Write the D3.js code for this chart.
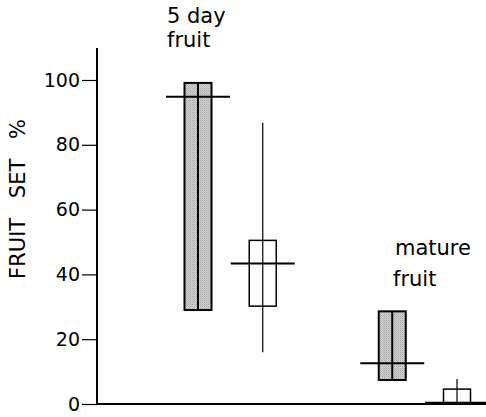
<!DOCTYPE html>
<html>
<head>
<meta charset="utf-8">
<title>fruit set</title>
<style>
  body { margin: 0; background: #fff; }
  text { font-family: "DejaVu Sans", sans-serif; fill: #000; }
</style>
</head>
<body>
<div class="wrapper"></div>
<script src="https://d3js.org/d3.v7.min.js"></script>
<script>
// slot position along the x axis (gap between the two groups)
var slots = [0, 1, 3, 4];
var shaded = [true, false, true, false];
var boxLow = [29, 30.2, 7.4, 0];
var boxHigh = [99.1, 50.5, 28.6, 4.6];
var means = [94.8, 43.4, 12.6, 0.4];
var rangeLow = [29, 16, 7.4, 0];
var rangeHigh = [99.1, 86.8, 28.6, 7.7];
var yTicks = [0, 20, 40, 60, 80, 100];
var groupLabels = [["5 day", "fruit"], ["mature", "fruit"]];

var w = 486, h = 417;
var svg = d3.select(".wrapper").append("svg")
    .attr("width", w)
    .attr("height", h);

var x = d3.scaleLinear().domain([0, 4]).range([198, 457]);
var y = d3.scaleLinear().domain([0, 100]).range([404, 80]);

var boxW = 27, meanHalf = 32;

// fine stipple for the shaded boxes
var pat = svg.append("defs").append("pattern")
    .attr("id", "stip")
    .attr("width", 2).attr("height", 2)
    .attr("patternUnits", "userSpaceOnUse");
pat.append("rect").attr("width", 2).attr("height", 2).attr("fill", "#d4d4d4");
pat.append("rect").attr("x", 0).attr("y", 0).attr("width", 1).attr("height", 1).attr("fill", "#a6a6a6");
pat.append("rect").attr("x", 1).attr("y", 1).attr("width", 1).attr("height", 1).attr("fill", "#bcbcbc");

// y axis
var yAxis = d3.axisLeft(y).tickValues(yTicks).tickSize(15).tickPadding(2);
var ga = svg.append("g").attr("transform", "translate(97,0)").call(yAxis);
ga.select(".domain").remove();
ga.selectAll(".tick line").attr("stroke", "#000").attr("stroke-width", 1.2);
ga.selectAll(".tick text")
    .style("font-family", "DejaVu Sans, sans-serif")
    .style("font-size", "19px")
    .attr("fill", "#000");

svg.append("line")
    .attr("x1", 97).attr("x2", 97)
    .attr("y1", 48).attr("y2", y(0))
    .attr("stroke", "#000").attr("stroke-width", 2);
svg.append("line")
    .attr("x1", 96).attr("x2", w)
    .attr("y1", y(0)).attr("y2", y(0))
    .attr("stroke", "#000").attr("stroke-width", 2);

svg.append("text")
    .attr("transform", "translate(25,199) rotate(-90)")
    .attr("text-anchor", "middle")
    .style("font-size", "21px")
    .style("word-spacing", "13px")
    .text("FRUIT SET %");

// boxes
var idx = d3.range(slots.length);
svg.selectAll("rect.box")
    .data(idx)
    .enter()
    .append("rect")
    .attr("class", "box")
    .attr("x", function(i){ return x(slots[i]) - boxW/2; })
    .attr("width", boxW)
    .attr("y", function(i){ return y(boxHigh[i]); })
    .attr("height", function(i){ return y(boxLow[i]) - y(boxHigh[i]); })
    .attr("fill", function(i){ return shaded[i] ? "url(#stip)" : "#fff"; })
    .attr("stroke", "#000")
    .attr("stroke-width", function(i){ return shaded[i] ? 2 : 1.5; });

// range lines
svg.selectAll("line.range")
    .data(idx)
    .enter()
    .append("line")
    .attr("class", "range")
    .attr("x1", function(i){ return x(slots[i]); })
    .attr("x2", function(i){ return x(slots[i]); })
    .attr("y1", function(i){ return y(rangeLow[i]); })
    .attr("y2", function(i){ return y(rangeHigh[i]); })
    .attr("stroke", "#000")
    .attr("stroke-width", function(i){ return shaded[i] ? 2 : 1.2; });

// means
svg.selectAll("line.mean")
    .data(idx)
    .enter()
    .append("line")
    .attr("class", "mean")
    .attr("x1", function(i){ return x(slots[i]) - meanHalf; })
    .attr("x2", function(i){ return x(slots[i]) + meanHalf; })
    .attr("y1", function(i){ return y(means[i]); })
    .attr("y2", function(i){ return y(means[i]); })
    .attr("stroke", "#000")
    .attr("stroke-width", 2);

// group labels
var labelPos = [[167, 23, 24], [395, 255, 31]];
groupLabels.forEach(function(lines, g){
    lines.forEach(function(t, k){
        svg.append("text")
            .attr("x", labelPos[g][0] - (k === 1 && g === 1 ? 2 : 0))
            .attr("y", labelPos[g][1] + k * labelPos[g][2])
            .style("font-size", "21px")
            .text(t);
    });
});
</script>
</body>
</html>
